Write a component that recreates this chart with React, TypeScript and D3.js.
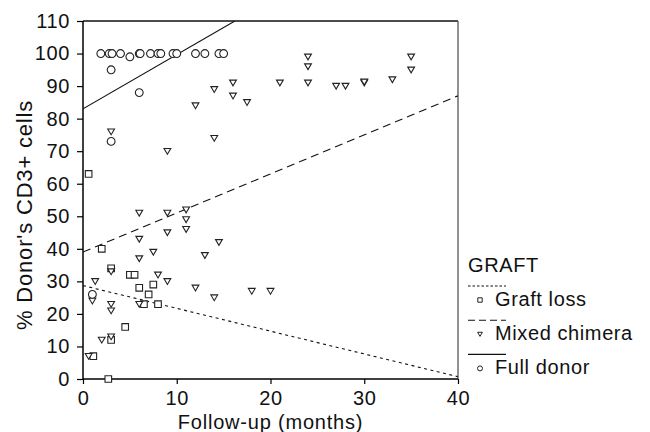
/**
 * Donor CD3+ chimerism vs follow-up
 */

import React, { Component } from 'react';
import { select, scaleLinear, axisLeft, axisBottom, line } from 'd3';

// graft loss (squares) [months, %]
const graftLoss: [number, number][] = [
  [0.6, 63], [2, 40], [3, 34], [5, 32], [5.5, 32], [6, 28], [7.5, 29], [7, 26],
  [6.5, 23], [8, 23], [4.5, 16], [3, 12], [1.1, 7], [2.7, 0],
];

// mixed chimera (triangles)
const mixedChimera: [number, number][] = [
  [16, 91], [16, 87], [14, 89], [12, 84], [3, 76], [14, 74], [9, 70], [17.5, 85],
  [21, 91], [24, 99], [24, 96], [24, 91], [27, 90], [28, 90], [30, 91], [30, 91.3],
  [33, 92], [35, 99], [35, 95],
  [6, 51], [9, 51], [11, 52], [11, 49], [11, 46], [9, 45], [6, 43], [14.5, 42],
  [7.5, 39], [6, 37], [13, 38], [3, 33], [8, 32], [1.3, 30], [9, 30], [12, 28],
  [14, 25], [1, 24], [3, 23], [6, 23], [3, 21], [2, 12], [3, 13], [0.6, 7],
  [18, 27], [20, 27],
];

// full donor (circles)
const fullDonor: [number, number][] = [
  [1.9, 100], [2.8, 100], [3.1, 100], [4, 100], [5, 99], [6, 100], [6.1, 100],
  [7.2, 100], [8, 100], [8.3, 100], [9.6, 100], [10, 100], [12, 100], [13, 100],
  [14.5, 100], [15, 100],
  [3, 95], [6, 88], [3, 73], [1, 26],
];

// fitted lines, end points
const graftLossFit: [number, number][] = [[0, 28.7], [40, 0.7]];
const mixedFit: [number, number][] = [[0, 39], [40, 87]];
const fullFit: [number, number][] = [[0, 83], [16.2, 110]];

const xTicks = [0, 10, 20, 30, 40];
const yTicks = [0, 10, 20, 30, 40, 50, 60, 70, 80, 90, 100, 110];

const FONT = '"Liberation Sans", Arial, Helvetica, sans-serif';

//marker paths
const square = (s: number) => `M${-s},${-s}H${s}V${s}H${-s}Z`;
const triDown = (s: number) => `M${-s},${-s * 0.8}H${s}L0,${s * 0.9}Z`;
const circle = (r: number) => `M${-r},0A${r},${r} 0 1,0 ${r},0A${r},${r} 0 1,0 ${-r},0Z`;

class App extends Component {
  svgRef = React.createRef<SVGSVGElement>();

  render() {
    return (
      <svg ref={this.svgRef} width={650} height={432}
        style={{ position: 'absolute', left: 0, top: 0, background: '#fff' }} />
    );
  }

  componentDidMount() {
    document.body.style.margin = '0';
    const svg = select(this.svgRef.current);
    svg.selectAll('*').remove();

    const left = 83, right = 458, top = 21, bottom = 379;
    const x = scaleLinear().domain([0, 40]).range([left, right]);
    const y = scaleLinear().domain([0, 110]).range([bottom, top]);

    // clip for the lines
    svg.append('clipPath').attr('id', 'plotclip')
      .append('rect').attr('x', left).attr('y', top)
      .attr('width', right - left).attr('height', bottom - top);

    /* frame */
    svg.append('line').attr('x1', left).attr('x2', right).attr('y1', top).attr('y2', top)
      .style('stroke', '#111').style('stroke-width', 1.3);
    svg.append('line').attr('x1', right).attr('x2', right).attr('y1', top).attr('y2', bottom)
      .style('stroke', '#555').style('stroke-width', 1.3);

    /* axes */
    const gy = svg.append('g').attr('transform', `translate(${left},0)`)
      .call(axisLeft(y).tickValues(yTicks).tickSize(6).tickPadding(7).tickFormat((d: any) => String(d)));
    const gx = svg.append('g').attr('transform', `translate(0,${bottom})`)
      .call(axisBottom(x).tickValues(xTicks).tickSize(5).tickPadding(7).tickFormat((d: any) => String(d)));
    [gx, gy].forEach((g) => {
      g.select('.domain').style('stroke', '#000').style('stroke-width', 1.5);
      g.selectAll('.tick line').style('stroke', '#000').style('stroke-width', 1.2);
      g.selectAll('.tick text').style('font-family', FONT).style('font-size', '20px')
        .style('letter-spacing', '0.6px').style('fill', '#111');
    });
    gx.select('.domain').attr('d', `M${left},0H${right}`);
    gy.select('.domain').attr('d', `M0,${bottom}V${top}`);

    /* titles */
    svg.append('text').attr('x', (left + right) / 2).attr('y', 429)
      .attr('text-anchor', 'middle').style('font-family', FONT).style('font-size', '20px')
      .style('letter-spacing', '0.8px').style('fill', '#111').text('Follow-up (months)');
    svg.append('text').attr('transform', 'translate(32,215) rotate(-90)')
      .attr('text-anchor', 'middle').style('font-family', FONT).style('font-size', '22px')
      .style('letter-spacing', '0.8px').style('fill', '#111').text("% Donor's CD3+ cells");

    /* fit lines */
    const ln = line<[number, number]>().x((d) => x(d[0])).y((d) => y(d[1]));
    const fits: [typeof graftLossFit, string][] = [
      [graftLossFit, '3,3.5'], [mixedFit, '8,5'], [fullFit, ''],
    ];
    fits.forEach(([pts, dash]) => {
      svg.append('path').attr('d', ln(pts) as string).attr('clip-path', 'url(#plotclip)')
        .style('fill', 'none').style('stroke', '#111').style('stroke-width', 1.1)
        .style('stroke-dasharray', dash);
    });

    /* points */
    const groups: [[number, number][], string][] = [
      [graftLoss, square(3.3)], [mixedChimera, triDown(3.4)], [fullDonor, circle(3.9)],
    ];
    groups.forEach(([pts, shape]) => {
      svg.append('g').selectAll('path').data(pts).enter().append('path')
        .attr('transform', (d) => `translate(${x(d[0])},${y(d[1])})`)
        .attr('d', shape)
        .style('fill', '#fff').style('stroke', '#222').style('stroke-width', 1.1);
    });

    /* legend */
    const lg = svg.append('g').style('font-family', FONT).style('font-size', '20px')
      .style('letter-spacing', '0.6px').style('fill', '#111');
    lg.append('text').attr('x', 468).attr('y', 272).text('GRAFT');
    const items: [string, string, string][] = [
      ['Graft loss', '2.5,2', square(2.2)],
      ['Mixed chimera', '7,4', triDown(2.4)],
      ['Full donor', '', circle(2.5)],
    ];
    items.forEach(([name, dash, shape], i) => {
      const ly = 286 + i * 34.2;
      lg.append('line').attr('x1', 468).attr('x2', 506).attr('y1', ly).attr('y2', ly)
        .style('stroke', '#111').style('stroke-width', 1.1).style('stroke-dasharray', dash);
      lg.append('path').attr('transform', `translate(480,${ly + 14})`).attr('d', shape)
        .style('fill', '#fff').style('stroke', '#222').style('stroke-width', 1);
      lg.append('text').attr('x', 495).attr('y', ly + 19.5).text(name);
    });
  }
}

export default App;
